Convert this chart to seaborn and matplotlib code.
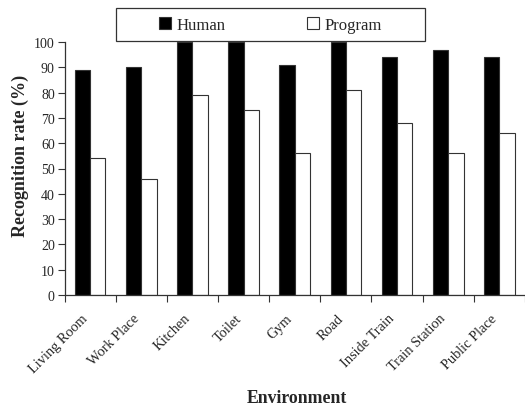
import matplotlib
matplotlib.use("Agg")
import matplotlib.pyplot as plt
from matplotlib.patches import Rectangle
from matplotlib.transforms import ScaledTranslation
import numpy as np
import pandas as pd
import seaborn as sns

environments = ["Living Room", "Work Place", "Kitchen", "Toilet", "Gym", "Road",
                "Inside Train", "Train Station", "Public Place"]
human = [89, 90, 100, 100, 91, 100, 94, 97, 94]
program = [54, 46, 79, 73, 56, 81, 68, 56, 64]
series = ["Human", "Program"]
y_ticks = [0, 10, 20, 30, 40, 50, 60, 70, 80, 90, 100]

df = pd.DataFrame({
    "Environment": environments * 2,
    "Rate": human + program,
    "Source": [series[0]] * len(environments) + [series[1]] * len(environments),
})

sns.set_style("white")
plt.rcParams["font.family"] = ["Liberation Serif", "DejaVu Serif"]

fig = plt.figure(figsize=(5.25, 4.06), dpi=100)
ax = fig.add_axes([64.5 / 525, 110 / 406, (525 - 64.5) / 525, 253 / 406])

sns.barplot(data=df, x="Environment", y="Rate", hue="Source",
            palette={"Human": "black", "Program": "white"},
            order=environments, hue_order=series, width=0.6, gap=0,
            edgecolor="#333333", linewidth=0.8, ax=ax, legend=False)

ax.set_ylim(0, 100)
ax.set_xlim(-0.5, 8.46)
ax.set_yticks(y_ticks)
ax.set_yticklabels([str(t) for t in y_ticks], fontsize=10)

# Tick marks at group boundaries; category names drawn under each group centre
ax.set_xticks(np.arange(-0.5, len(environments), 1.0))
ax.set_xticklabels([])
ax.tick_params(axis="x", length=5, width=0.8, color="#333333",
               direction="out", bottom=True)
ax.tick_params(axis="y", length=5, width=0.8, color="#333333",
               direction="out", left=True, pad=2)
label_tf = ax.get_xaxis_transform() + ScaledTranslation(-9 / 100, -16.3 / 100,
                                                         fig.dpi_scale_trans)
for i, name in enumerate(environments):
    ax.text(i, 0, name, transform=label_tf, rotation=45, ha="right", va="top",
            rotation_mode="anchor", fontsize=10.4, clip_on=False)

for side in ("top", "right"):
    ax.spines[side].set_visible(False)
for side in ("left", "bottom"):
    ax.spines[side].set_color("#333333")
    ax.spines[side].set_linewidth(0.9)

ax.set_xlabel("Environment", fontsize=12.8, fontweight="bold", va="baseline")
ax.xaxis.set_label_coords(232.5 / 460.5, -107 / 253)
ax.set_ylabel("Recognition rate (%)", fontsize=13, fontweight="bold", va="center")
ax.yaxis.set_label_coords(-44.5 / 460.5, 140.5 / 253)

# Legend box above the plot area
fig.patches.append(Rectangle((116 / 525, 1 - 42 / 406), 309 / 525, 33 / 406,
                             transform=fig.transFigure, facecolor="white",
                             edgecolor="#333333", linewidth=0.9, zorder=5))
handles = [Rectangle((0, 0), 1, 1, facecolor="black", edgecolor="#333333", linewidth=0.8),
           Rectangle((0, 0), 1, 1, facecolor="white", edgecolor="#333333", linewidth=0.8)]
leg = fig.legend(handles, series, loc="center", ncol=2, frameon=False,
                 bbox_to_anchor=(270.5 / 525, 1 - 25.5 / 406),
                 fontsize=12, handlelength=0.72, handleheight=0.72,
                 handletextpad=0.3, columnspacing=4.9)
leg.set_zorder(6)

fig.savefig("out.png", dpi=100)
